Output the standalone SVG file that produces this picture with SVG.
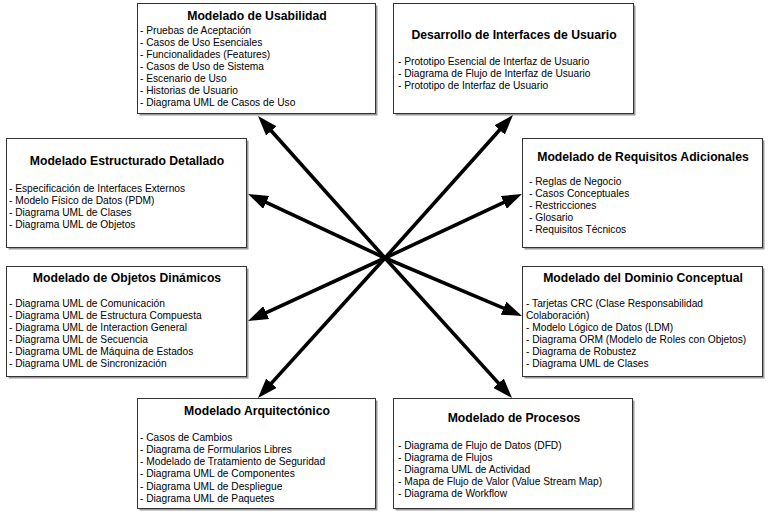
<svg xmlns="http://www.w3.org/2000/svg" width="770" height="518" viewBox="0 0 770 518">
<style>
.box{fill:#fff;stroke:#333;stroke-width:1}
.shadow{fill:#999}
.t{font-family:"Liberation Sans",Arial,sans-serif;font-size:12.2px;font-weight:bold;fill:#000;text-anchor:middle}
.i{font-family:"Liberation Sans",Arial,sans-serif;font-size:10.2px;fill:#000}
.c{stroke:#000;stroke-width:3.6;fill:none;marker-end:url(#ah)}
</style>
<defs>
<marker id="ah" markerUnits="userSpaceOnUse" markerWidth="20" markerHeight="14" refX="10" refY="7" orient="auto" viewBox="0 0 20 14">
<path d="M0,0 L20,7 L0,14 z" fill="#000"/>
</marker>
</defs>
<rect width="770" height="518" fill="#fff"/>

<g id="usabilidad" transform="translate(0,1)">
<rect class="shadow" x="139.5" y="4.5" width="238" height="110"/>
<rect class="box" x="137.5" y="2.5" width="238" height="110"/>
<text class="t" x="257" y="19">Modelado de Usabilidad</text>
<text class="i" x="140" y="33">- Pruebas de Aceptación</text>
<text class="i" x="140" y="45">- Casos de Uso Esenciales</text>
<text class="i" x="140" y="57">- Funcionalidades (Features)</text>
<text class="i" x="140" y="69">- Casos de Uso de Sistema</text>
<text class="i" x="140" y="81">- Escenario de Uso</text>
<text class="i" x="140" y="93">- Historias de Usuario</text>
<text class="i" x="140" y="105">- Diagrama UML de Casos de Uso</text>
</g>

<g id="interfaces" transform="translate(0,1)">
<rect class="shadow" x="395.5" y="4.5" width="240" height="110"/>
<rect class="box" x="393.5" y="2.5" width="240" height="110"/>
<text class="t" x="514" y="38">Desarrollo de Interfaces de Usuario</text>
<text class="i" x="398" y="64">- Prototipo Esencial de Interfaz de Usuario</text>
<text class="i" x="398" y="76">- Diagrama de Flujo de Interfaz de Usuario</text>
<text class="i" x="398" y="88">- Prototipo de Interfaz de Usuario</text>
</g>

<g id="estructurado">
<rect class="shadow" x="8.5" y="140.5" width="240" height="109"/>
<rect class="box" x="6.5" y="138.5" width="240" height="109"/>
<text class="t" x="127" y="165">Modelado Estructurado Detallado</text>
<text class="i" x="9" y="192">- Especificación de Interfaces Externos</text>
<text class="i" x="9" y="204">- Modelo Físico de Datos (PDM)</text>
<text class="i" x="9" y="216">- Diagrama UML de Clases</text>
<text class="i" x="9" y="228">- Diagrama UML de Objetos</text>
</g>

<g id="requisitos">
<rect class="shadow" x="524.5" y="140.5" width="240" height="109"/>
<rect class="box" x="522.5" y="138.5" width="240" height="109"/>
<text class="t" x="643" y="161">Modelado de Requisitos Adicionales</text>
<text class="i" x="529" y="185">- Reglas de Negocio</text>
<text class="i" x="529" y="197">- Casos Conceptuales</text>
<text class="i" x="529" y="209">- Restricciones</text>
<text class="i" x="529" y="221">- Glosario</text>
<text class="i" x="529" y="233">- Requisitos Técnicos</text>
</g>

<g id="objetos">
<rect class="shadow" x="8.5" y="268.5" width="240" height="110"/>
<rect class="box" x="6.5" y="266.5" width="240" height="110"/>
<text class="t" x="127" y="282">Modelado de Objetos Dinámicos</text>
<text class="i" x="9" y="307">- Diagrama UML de Comunicación</text>
<text class="i" x="9" y="319">- Diagrama UML de Estructura Compuesta</text>
<text class="i" x="9" y="331">- Diagrama UML de Interaction General</text>
<text class="i" x="9" y="343">- Diagrama UML de Secuencia</text>
<text class="i" x="9" y="355">- Diagrama UML de Máquina de Estados</text>
<text class="i" x="9" y="367">- Diagrama UML de Sincronización</text>
</g>

<g id="dominio">
<rect class="shadow" x="524.5" y="268.5" width="240" height="110"/>
<rect class="box" x="522.5" y="266.5" width="240" height="110"/>
<text class="t" x="643" y="282">Modelado del Dominio Conceptual</text>
<text class="i" x="526" y="307">- Tarjetas CRC (Clase Responsabilidad</text>
<text class="i" x="526" y="319">Colaboración)</text>
<text class="i" x="526" y="331">- Modelo Lógico de Datos (LDM)</text>
<text class="i" x="526" y="343">- Diagrama ORM (Modelo de Roles con Objetos)</text>
<text class="i" x="526" y="355">- Diagrama de Robustez</text>
<text class="i" x="526" y="367">- Diagrama UML de Clases</text>
</g>

<g id="arquitectonico">
<rect class="shadow" x="139.5" y="400.5" width="238" height="110"/>
<rect class="box" x="137.5" y="398.5" width="238" height="110"/>
<text class="t" x="257" y="415">Modelado Arquitectónico</text>
<text class="i" x="140" y="441">- Casos de Cambios</text>
<text class="i" x="140" y="453">- Diagrama de Formularios Libres</text>
<text class="i" x="140" y="465">- Modelado de Tratamiento de Seguridad</text>
<text class="i" x="140" y="477">- Diagrama UML de Componentes</text>
<text class="i" x="140" y="490">- Diagrama UML de Despliegue</text>
<text class="i" x="140" y="502">- Diagrama UML de Paquetes</text>
</g>

<g id="procesos">
<rect class="shadow" x="395.5" y="400.5" width="239" height="110"/>
<rect class="box" x="393.5" y="398.5" width="239" height="110"/>
<text class="t" x="514" y="422">Modelado de Procesos</text>
<text class="i" x="398" y="449">- Diagrama de Flujo de Datos (DFD)</text>
<text class="i" x="398" y="461">- Diagrama de Flujos</text>
<text class="i" x="398" y="473">- Diagrama UML de Actividad</text>
<text class="i" x="398" y="485">- Mapa de Flujo de Valor (Value Stream Map)</text>
<text class="i" x="398" y="497">- Diagrama de Workflow</text>
</g>

<g id="connectors">
<line class="c" x1="385" y1="258" x2="264.7" y2="123.5"/>
<line class="c" x1="385" y1="258" x2="506.3" y2="122.5"/>
<line class="c" x1="385" y1="258" x2="257.1" y2="198.2"/>
<line class="c" x1="385" y1="258" x2="512.9" y2="198.2"/>
<line class="c" x1="385" y1="258" x2="257.1" y2="316.8"/>
<line class="c" x1="385" y1="258" x2="512.8" y2="312.1"/>
<line class="c" x1="385" y1="258" x2="264.7" y2="390.6"/>
<line class="c" x1="385" y1="258" x2="505.3" y2="390.6"/>
</g>
</svg>
